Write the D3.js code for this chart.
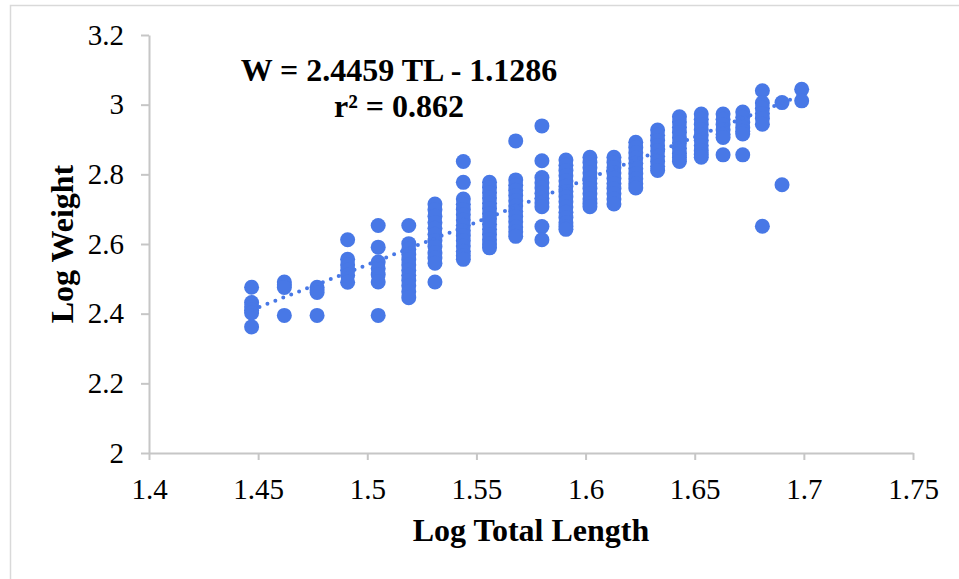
<!DOCTYPE html>
<html>
<head>
<meta charset="utf-8">
<script src="https://cdn.jsdelivr.net/npm/d3@7"></script>
<style>
  body { margin: 0; background: #fff; }
  svg { display: block; }
  .axis path, .axis line { stroke: #c6c6c6; stroke-width: 2px; }
  .axis text { font-family: "Liberation Serif", "Times New Roman", serif; font-size: 29px; fill: #000; }
</style>
</head>
<body>
<div id="chart"></div>
<script>
// log10 of total length, one value per length class
var logLength = [1.447, 1.462, 1.477, 1.491, 1.505, 1.519, 1.531, 1.544, 1.556, 1.568, 1.580, 1.591,
                 1.602, 1.613, 1.623, 1.633, 1.643, 1.653, 1.663, 1.672, 1.681, 1.690, 1.699];

// log10 of weight, one list per length class
var logWeight = [
  [2.476, 2.432, 2.420, 2.410, 2.402, 2.362],
  [2.491, 2.483, 2.475, 2.395],
  [2.476, 2.468, 2.461, 2.395],
  [2.612, 2.556, 2.540, 2.525, 2.510, 2.490],
  [2.653, 2.591, 2.548, 2.530, 2.512, 2.491, 2.395],
  [2.653, 2.601, 2.585, 2.570, 2.555, 2.540, 2.525, 2.510, 2.495, 2.480, 2.463, 2.446],
  [2.715, 2.698, 2.680, 2.662, 2.645, 2.628, 2.610, 2.593, 2.575, 2.560, 2.545, 2.491],
  [2.837, 2.777, 2.729, 2.714, 2.699, 2.684, 2.669, 2.654, 2.639, 2.624, 2.609, 2.594, 2.579, 2.566, 2.556],
  [2.777, 2.762, 2.747, 2.732, 2.717, 2.702, 2.687, 2.672, 2.657, 2.642, 2.627, 2.612, 2.600, 2.589],
  [2.896, 2.784, 2.769, 2.754, 2.739, 2.724, 2.709, 2.694, 2.679, 2.664, 2.649, 2.635, 2.622],
  [2.939, 2.839, 2.791, 2.776, 2.761, 2.746, 2.731, 2.718, 2.707, 2.650, 2.612],
  [2.841, 2.826, 2.811, 2.796, 2.781, 2.766, 2.751, 2.736, 2.721, 2.706, 2.691, 2.676, 2.661, 2.650, 2.642],
  [2.849, 2.834, 2.819, 2.804, 2.789, 2.774, 2.759, 2.744, 2.729, 2.716, 2.707],
  [2.849, 2.834, 2.819, 2.804, 2.789, 2.774, 2.759, 2.744, 2.729, 2.715],
  [2.892, 2.877, 2.862, 2.847, 2.832, 2.817, 2.802, 2.787, 2.773, 2.761],
  [2.927, 2.912, 2.897, 2.882, 2.867, 2.852, 2.837, 2.823, 2.811],
  [2.965, 2.950, 2.935, 2.920, 2.905, 2.890, 2.875, 2.860, 2.848, 2.837],
  [2.973, 2.958, 2.943, 2.928, 2.913, 2.898, 2.883, 2.868, 2.857, 2.849],
  [2.973, 2.958, 2.943, 2.928, 2.915, 2.906, 2.856],
  [2.979, 2.964, 2.949, 2.934, 2.924, 2.916, 2.856],
  [3.040, 3.005, 2.990, 2.975, 2.960, 2.944, 2.651],
  [3.006, 2.770],
  [3.044, 3.011]
];

var xTicks = [1.4, 1.45, 1.5, 1.55, 1.6, 1.65, 1.7, 1.75];
var yTicks = [2, 2.2, 2.4, 2.6, 2.8, 3, 3.2];

// fitted line W = a TL + b
var slope = 2.4459;
var intercept = -1.1286;
var rSquared = 0.862;

var width = 959, height = 579;
var color = "#4878e6";

var svg = d3.select("#chart").append("svg")
    .attr("width", width)
    .attr("height", height);

// outer chart frame (runs off the right and bottom edge)
svg.append("rect")
    .attr("x", 10.5).attr("y", 5.5)
    .attr("width", 1000).attr("height", 700)
    .attr("fill", "none")
    .attr("stroke", "#d9d9d9")
    .attr("stroke-width", 1.5);

var x = d3.scaleLinear().domain([1.4, 1.75]).range([149, 913]);
var y = d3.scaleLinear().domain([2, 3.2]).range([453, 35]);

svg.append("g")
    .attr("class", "axis")
    .attr("transform", "translate(0," + y(2) + ")")
    .call(d3.axisBottom(x).tickValues(xTicks).tickSize(7).tickSizeOuter(0).tickPadding(18)
        .tickFormat(function(d) { return String(d); }));

svg.append("g")
    .attr("class", "axis")
    .attr("transform", "translate(" + x(1.4) + ",0)")
    .call(d3.axisLeft(y).tickValues(yTicks).tickSize(8).tickSizeOuter(0).tickPadding(17)
        .tickFormat(function(d) { return String(d); }));

// flatten columns into points
var points = [];
logLength.forEach(function(tl, i) {
    logWeight[i].forEach(function(w) { points.push({ tl: tl, w: w }); });
});

svg.append("g")
    .selectAll("circle")
    .data(points)
    .join("circle")
        .attr("cx", function(d) { return x(d.tl); })
        .attr("cy", function(d) { return y(d.w); })
        .attr("r", 7.5)
        .attr("fill", color);

// dotted trend line
var tlExtent = d3.extent(logLength);
svg.append("line")
    .attr("x1", x(tlExtent[0]))
    .attr("y1", y(slope * tlExtent[0] + intercept))
    .attr("x2", x(tlExtent[1]))
    .attr("y2", y(slope * tlExtent[1] + intercept))
    .attr("stroke", color)
    .attr("stroke-width", 4)
    .attr("stroke-linecap", "round")
    .attr("stroke-dasharray", "0,8.5");

var serif = '"Liberation Serif", "Times New Roman", serif';

// equation
svg.append("text")
    .attr("x", 399).attr("y", 81)
    .attr("text-anchor", "middle")
    .style("font-family", serif).style("font-weight", "bold").style("font-size", "32px")
    .text("W = " + slope + " TL - " + Math.abs(intercept));

svg.append("text")
    .attr("x", 399).attr("y", 117)
    .attr("text-anchor", "middle")
    .style("font-family", serif).style("font-weight", "bold").style("font-size", "32px")
    .text("r\u00b2 = " + rSquared);

// axis titles
svg.append("text")
    .attr("x", (x(1.4) + x(1.75)) / 2).attr("y", 541)
    .attr("text-anchor", "middle")
    .style("font-family", serif).style("font-weight", "bold").style("font-size", "32px")
    .text("Log Total Length");

svg.append("text")
    .attr("transform", "translate(73," + (y(2) + y(3.2)) / 2 + ") rotate(-90)")
    .attr("text-anchor", "middle")
    .style("font-family", serif).style("font-weight", "bold").style("font-size", "32px")
    .text("Log Weight");
</script>
</body>
</html>
